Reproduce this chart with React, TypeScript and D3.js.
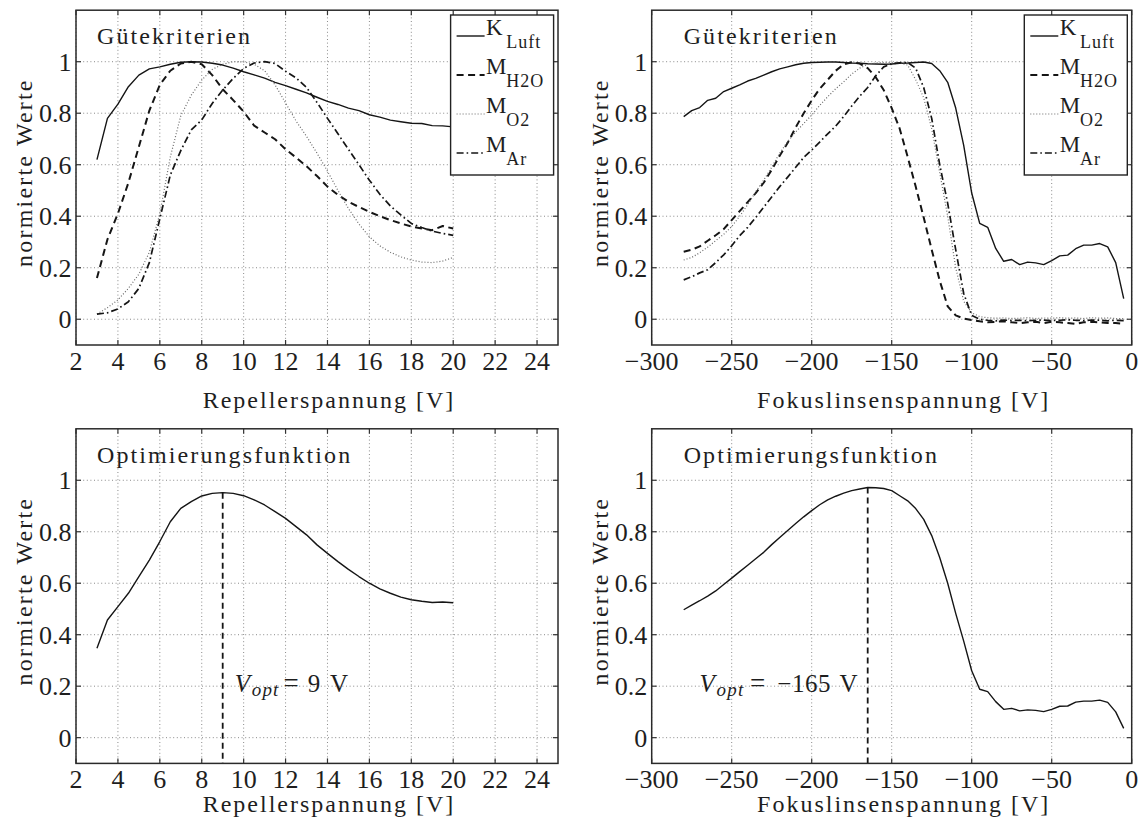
import React from 'react';
import * as d3 from 'd3';

// ---------- data ----------
const REP_V = [3, 3.5, 4, 4.5, 5, 5.5, 6, 6.5, 7, 7.5, 8, 8.5, 9, 9.5, 10, 10.5, 11, 11.5, 12, 12.5, 13, 13.5, 14, 14.5, 15, 15.5, 16, 16.5, 17, 17.5, 18, 18.5, 19, 19.5, 20];
const REP_K_LUFT = [0.62, 0.78, 0.835, 0.903, 0.948, 0.972, 0.98, 0.99, 0.998, 1.0, 0.999, 0.994, 0.987, 0.975, 0.961, 0.949, 0.936, 0.92, 0.907, 0.893, 0.879, 0.862, 0.846, 0.834, 0.82, 0.81, 0.794, 0.785, 0.773, 0.767, 0.761, 0.76, 0.752, 0.751, 0.747];
const REP_M_H2O = [0.16, 0.31, 0.41, 0.53, 0.67, 0.81, 0.91, 0.965, 0.993, 1.0, 0.99, 0.948, 0.893, 0.851, 0.806, 0.752, 0.725, 0.699, 0.66, 0.628, 0.594, 0.556, 0.515, 0.483, 0.456, 0.436, 0.417, 0.4, 0.385, 0.372, 0.36, 0.352, 0.346, 0.362, 0.352];
const REP_M_O2 = [0.02, 0.045, 0.075, 0.12, 0.175, 0.26, 0.41, 0.63, 0.79, 0.87, 0.929, 0.97, 0.99, 1.0, 0.999, 0.99, 0.965, 0.91, 0.84, 0.77, 0.71, 0.645, 0.575, 0.5, 0.43, 0.37, 0.32, 0.285, 0.26, 0.242, 0.23, 0.222, 0.22, 0.226, 0.24];
const REP_M_AR = [0.02, 0.025, 0.04, 0.068, 0.12, 0.22, 0.39, 0.56, 0.655, 0.735, 0.774, 0.838, 0.89, 0.935, 0.974, 0.995, 1.0, 0.993, 0.963, 0.937, 0.9, 0.842, 0.78, 0.72, 0.66, 0.6, 0.54, 0.485, 0.44, 0.405, 0.372, 0.356, 0.342, 0.333, 0.326];
const REP_OPT = [0.347, 0.457, 0.509, 0.561, 0.626, 0.69, 0.762, 0.839, 0.891, 0.917, 0.939, 0.949, 0.952, 0.949, 0.94, 0.924, 0.904, 0.878, 0.852, 0.82, 0.788, 0.749, 0.716, 0.684, 0.654, 0.626, 0.6, 0.578, 0.561, 0.546, 0.536, 0.53, 0.525, 0.527, 0.524];

const FOK_V = [-280, -275, -270, -265, -260, -255, -250, -245, -240, -235, -230, -225, -220, -215, -210, -205, -200, -195, -190, -185, -180, -175, -170, -165, -160, -155, -150, -145, -140, -135, -130, -125, -120, -115, -110, -105, -100, -95, -90, -85, -80, -75, -70, -65, -60, -55, -50, -45, -40, -35, -30, -25, -20, -15, -10, -5];
const FOK_K_LUFT = [0.787, 0.81, 0.822, 0.85, 0.858, 0.884, 0.897, 0.91, 0.925, 0.935, 0.948, 0.961, 0.972, 0.98, 0.988, 0.994, 0.997, 0.998, 0.999, 0.999, 0.997, 0.995, 0.994, 0.992, 0.991, 0.99, 0.991, 0.994, 0.995, 0.997, 0.999, 0.993, 0.965, 0.92, 0.82, 0.675, 0.49, 0.372, 0.357, 0.275, 0.225, 0.232, 0.212, 0.222, 0.219, 0.212, 0.228, 0.246, 0.249, 0.274, 0.288, 0.288, 0.294, 0.281, 0.22, 0.08];
const FOK_M_H2O = [0.262, 0.27, 0.283, 0.305, 0.326, 0.35, 0.385, 0.42, 0.455, 0.49, 0.53, 0.58, 0.635, 0.685, 0.745, 0.8, 0.85, 0.895, 0.93, 0.965, 0.99, 0.998, 0.993, 0.975, 0.94, 0.89, 0.82, 0.74, 0.63, 0.515, 0.395, 0.27, 0.15, 0.05, 0.015, 0.003, -0.003, -0.008, -0.012, -0.01, -0.008, -0.012, -0.015, -0.012, -0.01, -0.015, -0.01, -0.012, -0.015, -0.018, -0.012, -0.01, -0.012, -0.015, -0.015, -0.018];
const FOK_M_O2 = [0.23, 0.24, 0.258, 0.28, 0.305, 0.33, 0.36, 0.4, 0.445, 0.495, 0.54, 0.59, 0.645, 0.69, 0.727, 0.76, 0.793, 0.83, 0.864, 0.895, 0.922, 0.952, 0.975, 0.99, 0.995, 0.997, 0.997, 0.995, 0.987, 0.93, 0.86, 0.74, 0.57, 0.4, 0.2, 0.07, 0.025, 0.01, 0.006, 0.004, 0.005, 0.003, 0.004, 0.006, 0.003, 0.005, 0.004, 0.006, 0.004, 0.005, 0.003, 0.006, 0.004, 0.005, 0.003, 0.002];
const FOK_M_AR = [0.153, 0.165, 0.18, 0.192, 0.22, 0.25, 0.285, 0.325, 0.357, 0.395, 0.435, 0.475, 0.515, 0.552, 0.59, 0.628, 0.657, 0.688, 0.72, 0.75, 0.787, 0.828, 0.866, 0.9, 0.945, 0.98, 0.992, 0.996, 0.997, 0.975, 0.9, 0.78, 0.6, 0.45, 0.27, 0.1, 0.015, 0.0, -0.004, -0.006, -0.003, -0.005, -0.004, -0.006, -0.004, -0.003, -0.005, -0.004, -0.002, -0.004, -0.005, -0.003, -0.004, -0.006, -0.004, -0.005];
const FOK_OPT = [0.497, 0.515, 0.532, 0.55, 0.57, 0.595, 0.62, 0.645, 0.67, 0.695, 0.72, 0.75, 0.778, 0.805, 0.832, 0.858, 0.882, 0.905, 0.924, 0.938, 0.95, 0.96, 0.966, 0.972, 0.971, 0.968, 0.96, 0.94, 0.92, 0.89, 0.848, 0.785, 0.7, 0.6, 0.483, 0.375, 0.26, 0.188, 0.179, 0.14, 0.11, 0.114, 0.104, 0.108, 0.106, 0.101, 0.11, 0.122, 0.123, 0.138, 0.142, 0.142, 0.146, 0.137, 0.1, 0.036];

const REP_TICKS = [2, 4, 6, 8, 10, 12, 14, 16, 18, 20, 22, 24];
const FOK_TICKS = [-300, -250, -200, -150, -100, -50, 0];
const Y_TICKS = [0, 0.2, 0.4, 0.6, 0.8, 1];
const REP_DOMAIN = [2, 25];
const FOK_DOMAIN = [-300, 0];
const Y_DOMAIN = [-0.1, 1.2];

const LEGEND_MAIN = ['K', 'M', 'M', 'M'];
const LEGEND_SUB = ['Luft', 'H2O', 'O2', 'Ar'];
const V_OPT_REP = 9;
const V_OPT_FOK = -165;
const V_OPT_REP_LABEL = '9';
const V_OPT_FOK_LABEL = '\u2212165';

// ---------- styles ----------
const FONT = 'Liberation Serif, DejaVu Serif, serif';
const INK = '#1e1e1e';
const STYLES = [
  { dash: undefined, width: 1.4, color: '#151515' },
  { dash: '7,4.5', width: 2, color: '#151515' },
  { dash: '1,2', width: 1.2, color: '#6a6a6a' },
  { dash: '7,3,1.6,3', width: 1.7, color: '#151515' },
];

type Series = { xs: number[]; ys: number[]; style: number };

function fmtTick(v: number) {
  const s = d3.format('~g')(v);
  return s.replace('-', '\u2212');
}

function T(props: any) {
  const { style, fontSize, fontStyle, letterSpacing, ...rest } = props;
  return (
    <text {...rest} style={{ fontFamily: FONT, fontSize, fontStyle, letterSpacing, ...(style || {}) }} />
  );
}

function Panel(props: {
  left: number; right: number; top: number; bottom: number;
  xDomain: number[]; xTicks: number[]; series: Series[];
  title: string; titleX: number; xLabel: string; xLabelGap: number;
  legend?: boolean; opt?: { v: number; peak: number; label: string; side: 'right' | 'left' };
}) {
  const { left, right, top, bottom, xDomain, xTicks, series, title, titleX, xLabel, xLabelGap, legend, opt } = props;
  const x = d3.scaleLinear().domain(xDomain).range([left, right]);
  const y = d3.scaleLinear().domain(Y_DOMAIN).range([bottom, top]);
  const line = d3.line<[number, number]>().x(d => x(d[0])).y(d => y(d[1]));
  const tickLen = 5;
  const clipId = `clip-${Math.round(left)}-${Math.round(top)}`;
  const lbX = right - 107.4;
  const lbY = top + 4.8;

  return (
    <g>
      <defs>
        <clipPath id={clipId}>
          <rect x={left} y={top} width={right - left} height={bottom - top} />
        </clipPath>
      </defs>
      <rect x={left} y={top} width={right - left} height={bottom - top} fill="#fff" />
      {xTicks.map(t => (
        <line key={'gx' + t} x1={x(t)} x2={x(t)} y1={top} y2={bottom} stroke="#8a8a8a" strokeWidth={1} strokeDasharray="1,2.6" />
      ))}
      {Y_TICKS.map(t => (
        <line key={'gy' + t} x1={left} x2={right} y1={y(t)} y2={y(t)} stroke="#8a8a8a" strokeWidth={1} strokeDasharray="1,2.6" />
      ))}
      {xTicks.map(t => (
        <g key={'tx' + t}>
          <line x1={x(t)} x2={x(t)} y1={bottom} y2={bottom - tickLen} stroke="#333" strokeWidth={1.2} />
          <line x1={x(t)} x2={x(t)} y1={top} y2={top + tickLen} stroke="#333" strokeWidth={1.2} />
          <T x={x(t)} y={bottom + 25} textAnchor="middle" fontSize={26} fill={INK}>{fmtTick(t)}</T>
        </g>
      ))}
      {Y_TICKS.map(t => (
        <g key={'ty' + t}>
          <line x1={left} x2={left + tickLen} y1={y(t)} y2={y(t)} stroke="#333" strokeWidth={1.2} />
          <line x1={right} x2={right - tickLen} y1={y(t)} y2={y(t)} stroke="#333" strokeWidth={1.2} />
          <T x={left - 4.5} y={y(t) + 9} textAnchor="end" fontSize={26} fill={INK}>{fmtTick(t)}</T>
        </g>
      ))}
      <g clipPath={`url(#${clipId})`}>
        {series.map((s, i) => {
          const st = STYLES[s.style];
          const pts = s.xs.map((v, j) => [v, s.ys[j]] as [number, number]);
          return (
            <path key={i} d={line(pts) || ''} fill="none" stroke={st.color} strokeWidth={st.width}
              strokeDasharray={st.dash} strokeLinejoin="round" />
          );
        })}
        {opt && (
          <line x1={x(opt.v)} x2={x(opt.v)} y1={y(opt.peak)} y2={bottom} stroke="#151515" strokeWidth={1.8} strokeDasharray="6,4" />
        )}
      </g>
      <T x={x(titleX)} y={y(1.068)} fontSize={24} letterSpacing={2.1} fill={INK}>{title}</T>
      {opt && (() => {
        const base = y(0.179);
        if (opt.side === 'right') {
          const s0 = x(opt.v) + 12.3;
          return (
            <g fill={INK}>
              <T x={s0 + 7.5} y={base} textAnchor="middle" fontSize={25} fontStyle="italic">V</T>
              <T x={s0 + 16.7} y={base + 4} fontSize={19} fontStyle="italic" letterSpacing={1.2}>opt</T>
              <T x={s0 + 56} y={base} textAnchor="middle" fontSize={27}>=</T>
              <T x={s0 + 79} y={base} textAnchor="middle" fontSize={25}>{opt.label}</T>
              <T x={s0 + 104} y={base} textAnchor="middle" fontSize={25}>V</T>
            </g>
          );
        }
        const s0 = x(opt.v) - 10.7 - 158.4;
        return (
          <g fill={INK}>
            <T x={s0 + 8.5} y={base} textAnchor="middle" fontSize={25} fontStyle="italic">V</T>
            <T x={s0 + 18} y={base + 4} fontSize={19} fontStyle="italic" letterSpacing={1.2}>opt</T>
            <T x={s0 + 59} y={base} textAnchor="middle" fontSize={27}>=</T>
            <T x={s0 + 105.5} y={base} textAnchor="middle" fontSize={25} letterSpacing={0.5}>{opt.label}</T>
            <T x={s0 + 150} y={base} textAnchor="middle" fontSize={25}>V</T>
          </g>
        );
      })()}
      {legend && (
        <g>
          <rect x={lbX} y={lbY} width={103} height={160} fill="#fff" stroke="#222" strokeWidth={1.4} />
          {LEGEND_MAIN.map((m, i) => {
            const ly = top + 25.8 + i * 39;
            const st = STYLES[i];
            return (
              <g key={'lg' + i}>
                <line x1={lbX + 6} x2={lbX + 34} y1={ly} y2={ly} stroke={st.color} strokeWidth={st.width} strokeDasharray={st.dash} />
                <T x={lbX + 35.5} y={ly - 1} fontSize={23} fill={INK}>{m}</T>
                <T x={lbX + 55.7} y={ly + 12.3} fontSize={18} letterSpacing={1} fill={INK}>{LEGEND_SUB[i]}</T>
              </g>
            );
          })}
        </g>
      )}
      <rect x={left} y={top} width={right - left} height={bottom - top} fill="none" stroke="#2a2a2a" strokeWidth={1.5} />
      <T x={(left + right) / 2 + 12} y={bottom + xLabelGap} textAnchor="middle" fontSize={24} letterSpacing={2} fill={INK}>{xLabel}</T>
      <T transform={`translate(${left - 44},${(top + bottom) / 2 - 5}) rotate(-90)`} textAnchor="middle" fontSize={24} letterSpacing={2.2} fill={INK}>normierte Werte</T>
    </g>
  );
}

export default function App() {
  const L = { left: 76, right: 558 };
  const R = { left: 651.7, right: 1131.7 };
  const TOP = { top: 10.2, bottom: 345 };
  const BOT = { top: 428.8, bottom: 763.4 };
  const repSeries: Series[] = [
    { xs: REP_V, ys: REP_K_LUFT, style: 0 },
    { xs: REP_V, ys: REP_M_H2O, style: 1 },
    { xs: REP_V, ys: REP_M_O2, style: 2 },
    { xs: REP_V, ys: REP_M_AR, style: 3 },
  ];
  const fokSeries: Series[] = [
    { xs: FOK_V, ys: FOK_K_LUFT, style: 0 },
    { xs: FOK_V, ys: FOK_M_H2O, style: 1 },
    { xs: FOK_V, ys: FOK_M_O2, style: 2 },
    { xs: FOK_V, ys: FOK_M_AR, style: 3 },
  ];
  const repPeak = REP_OPT[REP_V.indexOf(V_OPT_REP)];
  const fokPeak = FOK_OPT[FOK_V.indexOf(V_OPT_FOK)];
  return (
    <svg width={1145} height={821} style={{ position: 'absolute', left: 0, top: 0, background: '#fff' }}>
      <rect x={0} y={0} width={1145} height={821} fill="#fff" />
      <Panel {...L} {...TOP} xDomain={REP_DOMAIN} xTicks={REP_TICKS} series={repSeries}
        title="Gütekriterien" titleX={3} xLabel="Repellerspannung [V]" xLabelGap={63} legend />
      <Panel {...R} {...TOP} xDomain={FOK_DOMAIN} xTicks={FOK_TICKS} series={fokSeries}
        title="Gütekriterien" titleX={-280} xLabel="Fokuslinsenspannung [V]" xLabelGap={63} legend />
      <Panel {...L} {...BOT} xDomain={REP_DOMAIN} xTicks={REP_TICKS} series={[{ xs: REP_V, ys: REP_OPT, style: 0 }]}
        title="Optimierungsfunktion" titleX={3} xLabel="Repellerspannung [V]" xLabelGap={49}
        opt={{ v: V_OPT_REP, peak: repPeak, label: V_OPT_REP_LABEL, side: 'right' }} />
      <Panel {...R} {...BOT} xDomain={FOK_DOMAIN} xTicks={FOK_TICKS} series={[{ xs: FOK_V, ys: FOK_OPT, style: 0 }]}
        title="Optimierungsfunktion" titleX={-280} xLabel="Fokuslinsenspannung [V]" xLabelGap={49}
        opt={{ v: V_OPT_FOK, peak: fokPeak, label: V_OPT_FOK_LABEL, side: 'left' }} />
    </svg>
  );
}
